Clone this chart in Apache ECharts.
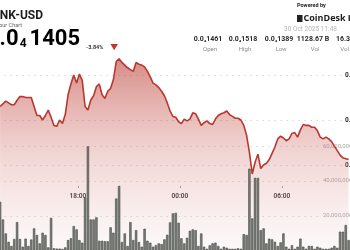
<!DOCTYPE html>
<html><head><meta charset="utf-8">
<script src="https://cdn.jsdelivr.net/npm/echarts@6/dist/echarts.min.js"></script>
<style>html,body{margin:0;padding:0;background:#fff;overflow:hidden}#c{width:350px;height:250px}</style>
</head><body><div id="c"></div>
<script>
// 10-minute buckets, 13:20 .. 09:50
const categories = [];
(function(){ let m = 13*60+20; for (let k = 0; k < 124; k++) { const t = (m + k*10) % 1440; categories.push(String(Math.floor(t/60)).padStart(2,'0') + ':' + String(t%60).padStart(2,'0')); } })();
const timeTickLabels = ['18:00', '00:00', '06:00'];

// price in units of 1e-8 USD (0.0₄1405 = 0.00001405)
const priceE8 = [
 1465,1468,1471,1469,1467,1467,1472,1476,1476,1475,
 1475,1475,1465,1455,1455,1450,1455,1461,1453,1444,
 1443,1450,1446,1456,1478,1490,1500,1491,1501,1494,
 1465,1461,1472,1477,1487,1490,1478,1474,1482,1485,
 1495,1515,1518,1514,1511,1508,1506,1504,1514,1512,
 1511,1509,1504,1498,1491,1489,1486,1482,1477,1469,
 1460,1454,1453,1448,1446,1451,1449,1451,1458,1457,
 1451,1444,1447,1449,1446,1445,1451,1455,1457,1458,
 1460,1456,1454,1452,1452,1450,1444,1433,1414,1390,
 1403,1412,1396,1400,1402,1406,1413,1420,1429,1432,
 1430,1427,1429,1435,1436,1431,1439,1445,1444,1444,
 1442,1442,1438,1431,1429,1431,1429,1426,1421,1416,
 1411,1408,1407,1406
];
// volume in millions
const volumeM = [
 28,17.9,9.9,5.1,2.7,6.7,16.4,6.7,2.3,6.9,
 2.7,6.4,12.8,9,4.2,10.3,9,1.9,18.8,1.4,
 1.2,1.2,1,1.9,6.1,7.1,14.1,12.2,6.1,4.6,
 30.5,59.8,17.9,17.9,19.1,5.7,5.7,5.4,5.4,13.4,
 10.3,29.9,37.1,5,9.9,2.7,16.4,6.1,11.8,5,
 2.3,12.6,5.7,4.6,2.3,3.2,4.2,3.8,6.5,9.1,
 16.2,21.4,21.7,16,7.1,4.2,7.4,11.4,12.2,11.8,
 2.7,9.9,2.3,1.1,3.1,4.2,4.6,2.7,1.1,2.3,
 1.7,1.1,1.1,1.1,1.4,1.1,9.5,9,47,18.5,
 41.7,41.7,11.8,12.8,4.2,6.9,6.5,5.1,2.7,4.8,
 9.9,2.3,1.1,3.1,1.1,2.3,6.9,2.3,1.1,2.7,
 2.7,1.1,2.3,1.7,1.1,1.1,1.1,1.7,2.7,1.7,
 10.9,10.9,14.7,6.1
];
const priceTicks = [1400, 1450, 1500];
const volumeTicksM = [20, 40, 60];
const statValues = ['0.0₄1461', '0.0₄1518', '0.0₄1389', '1128.67 B', '16.32 M'];
const statLabels = ['Open', 'High', 'Low', 'Vol', 'Vol USD'];
const title = 'LINK-USD';
const subtitle = '24 Hour Chart';
const lastPriceParts = ['0.0', '4', '1405'];   // 0.0₄1405
const changePct = '-3.84%';
const stamp = '30 Oct 2025 11:48';

const FONT = 'Roboto, Inter, "DejaVu Sans", sans-serif';
const L = -1.333;
const dotted = { color: '#c4c4c4', width: 1, type: [1, 5] };
const isTimeTick = (i, v) => timeTickLabels.indexOf(v) >= 0;

const chart = echarts.init(document.getElementById('c'), null, { renderer: 'canvas' });
const statX = [208, 243, 279, 313, 349];
const graphic = [
  { type: 'text', z: 10, style: { text: title, x: 43, y: 16, align: 'right', verticalAlign: 'middle', font: '700 12px ' + FONT, fill: '#1d1d1d' } },
  { type: 'text', z: 10, style: { text: subtitle, x: 22, y: 25.5, align: 'right', verticalAlign: 'middle', font: '400 5.5px ' + FONT, fill: '#666' } },
  { type: 'text', z: 10, style: {
      text: '{m|' + lastPriceParts[0] + '}{s|' + lastPriceParts[1] + '}{m|' + lastPriceParts[2] + '}',
      x: 80, y: 50, align: 'right', verticalAlign: 'bottom',
      rich: {
        m: { fontFamily: FONT, fontWeight: 700, fontSize: 22, lineHeight: 22, color: '#1d1d1d', verticalAlign: 'bottom' },
        s: { fontFamily: FONT, fontWeight: 700, fontSize: 12, lineHeight: 14, color: '#1d1d1d', verticalAlign: 'bottom', padding: [0, 3, 0, 1] }
      } } },
  { type: 'text', z: 10, style: { text: changePct, x: 86, y: 48, align: 'left', verticalAlign: 'middle', font: '700 5.5px ' + FONT, fill: '#333' } },
  { type: 'text', z: 10, style: { text: '▼', x: 110, y: 47.5, align: 'left', verticalAlign: 'middle', font: '700 8px ' + FONT, fill: '#c0392b' } },
  { type: 'text', z: 10, style: { text: 'Powered by', x: 297, y: 6, align: 'left', verticalAlign: 'middle', font: '700 5.5px ' + FONT, fill: '#222' } },
  { type: 'rect', z: 10, shape: { x: 297, y: 15, width: 5.5, height: 7 }, style: { fill: '#222' } },
  { type: 'text', z: 10, style: { text: 'CoinDesk Indices', x: 303.5, y: 18.5, align: 'left', verticalAlign: 'middle', font: '700 9px "Open Sans", ' + FONT, fill: '#1d1d1d' } },
  { type: 'text', z: 10, style: { text: stamp, x: 284, y: 29, align: 'left', verticalAlign: 'middle', font: '400 6.5px ' + FONT, fill: '#b5b5b5' } }
];
statValues.forEach((t, k) => {
  graphic.push({ type: 'text', z: 10, style: { text: t, x: statX[k], y: 39, align: 'center', verticalAlign: 'middle', font: '700 7px ' + FONT, fill: '#2a2a2a' } });
  graphic.push({ type: 'text', z: 10, style: { text: statLabels[k], x: statX[k] + 2, y: 49, align: 'center', verticalAlign: 'middle', font: '400 6px ' + FONT, fill: '#8a8a8a' } });
});

const xBase = { type: 'category', data: categories, boundaryGap: true, show: false };
const G = (o) => Object.assign({ outerBoundsMode: 'none', containLabel: false }, o);

chart.setOption({
  animation: false,
  backgroundColor: '#ffffff',
  graphic: graphic,
  grid: [
    G({ left: L, right: 0, top: 30, bottom: -5 }),     // price series
    G({ left: L, right: 8, top: 75, bottom: 85 }),     // price grid lines + labels
    G({ left: L, right: 0, top: 146, bottom: -0.7 }),  // volume bars
    G({ left: L, right: 0, top: 178, bottom: 62 }),    // time labels
    G({ left: L, right: 29, top: 146, bottom: -0.7 })  // volume grid lines + labels
  ],
  xAxis: [
    Object.assign({}, xBase, { gridIndex: 0 }),
    Object.assign({}, xBase, { gridIndex: 1 }),
    Object.assign({}, xBase, { gridIndex: 2 }),
    { type: 'category', data: categories, boundaryGap: true, gridIndex: 3,
      axisLine: { show: false },
      axisTick: { show: true, inside: true, length: 2, interval: isTimeTick, lineStyle: { color: '#999', width: 1 } },
      axisLabel: { show: true, interval: isTimeTick, margin: 5, fontSize: 6.5, fontWeight: 700, color: '#3a3a3a', fontFamily: FONT, padding: [0, 3, 0, 0] } },
    Object.assign({}, xBase, { gridIndex: 4 })
  ],
  yAxis: [
    { gridIndex: 0, type: 'value', min: 1300, max: 1550, show: false },
    { gridIndex: 1, type: 'value', position: 'right', min: priceTicks[0], max: priceTicks[priceTicks.length - 1], interval: priceTicks[1] - priceTicks[0],
      axisLine: { show: false }, axisTick: { show: false },
      splitLine: { show: true, lineStyle: dotted },
      axisLabel: { margin: 3, showMinLabel: true, showMaxLabel: true, fontSize: 6.5, fontWeight: 700, color: '#2a2a2a', fontFamily: FONT,
        formatter: v => '0.0₄' + Math.round(v) } },
    { gridIndex: 2, type: 'value', min: 0, max: volumeTicksM[volumeTicksM.length - 1], show: false },
    { gridIndex: 3, type: 'value', show: false },
    { gridIndex: 4, type: 'value', position: 'right', min: 0, max: volumeTicksM[volumeTicksM.length - 1], interval: volumeTicksM[0],
      axisLine: { show: false }, axisTick: { show: false },
      splitLine: { show: true, lineStyle: dotted },
      axisLabel: { margin: 2, fontSize: 6, color: '#a8a8a8', fontFamily: FONT,
        formatter: v => v === 0 ? '' : (v * 1e6).toLocaleString('en-US') } }
  ],
  series: [
    { type: 'line', xAxisIndex: 0, yAxisIndex: 0, data: priceE8, symbol: 'none', z: 1,
      lineStyle: { width: 0 },
      areaStyle: { color: new echarts.graphic.LinearGradient(0, 0, 0, 1, [
        { offset: 0, color: 'rgba(188,62,52,0.85)' },
        { offset: 0.45, color: 'rgba(206,110,104,0.45)' },
        { offset: 1, color: 'rgba(232,190,190,0.12)' }
      ]) } },
    { type: 'bar', xAxisIndex: 2, yAxisIndex: 2, data: volumeM, z: 2, barCategoryGap: '18%',
      itemStyle: { color: '#7e817b', borderColor: '#3f433e', borderWidth: 0.6 } },
    { type: 'line', xAxisIndex: 0, yAxisIndex: 0, data: priceE8, symbol: 'none', z: 3,
      lineStyle: { width: 1.6, color: '#b8382f' } }
  ]
});
</script></body></html>
